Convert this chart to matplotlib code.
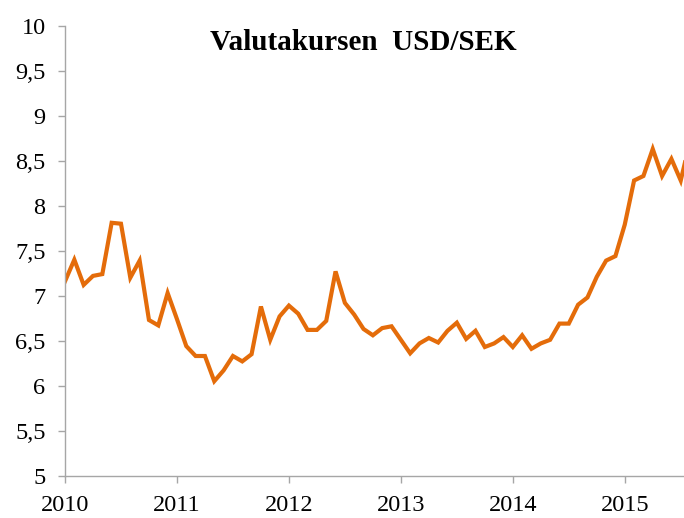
"""Valutakursen USD/SEK - månadsdata 2010-2015"""
import matplotlib
matplotlib.use("Agg")
import matplotlib.pyplot as plt
from matplotlib.ticker import FuncFormatter

# ============ data ============
# månadsvärden från jan 2010
usd_sek = [
    7.16, 7.40, 7.12, 7.22, 7.24, 7.81, 7.80, 7.20, 7.39, 6.73, 6.67, 7.03,   # 2010
    6.74, 6.44, 6.33, 6.33, 6.05, 6.17, 6.33, 6.27, 6.35, 6.88, 6.51, 6.77,   # 2011
    6.89, 6.80, 6.62, 6.62, 6.72, 7.27, 6.92, 6.79, 6.63, 6.56, 6.64, 6.66,   # 2012
    6.51, 6.36, 6.47, 6.53, 6.48, 6.61, 6.70, 6.52, 6.61, 6.43, 6.47, 6.54,   # 2013
    6.43, 6.56, 6.41, 6.47, 6.51, 6.69, 6.69, 6.90, 6.98, 7.21, 7.39, 7.44,   # 2014
    7.79, 8.28, 8.33, 8.63, 8.33, 8.52, 8.28, 8.72,                           # 2015
]
year_labels = ["2010", "2011", "2012", "2013", "2014", "2015"]
y_ticks = [5, 5.5, 6, 6.5, 7, 7.5, 8, 8.5, 9, 9.5, 10]

plt.rcParams["font.family"] = ["Liberation Serif", "DejaVu Serif"]

fig = plt.figure(figsize=(6.84, 5.18), dpi=100)
ax = fig.add_axes([65 / 684, 1 - 475.7 / 518, 1 - 65 / 684, (475.7 - 25.7) / 518])

months = list(range(len(usd_sek)))
ax.plot(months, usd_sek, color="#E46C0A", linewidth=3.0,
        solid_joinstyle="miter", clip_on=True)

ax.set_ylim(5, 10)
ax.set_xlim(0, 66.35)
ax.set_yticks(y_ticks)
ax.yaxis.set_major_formatter(FuncFormatter(lambda v, p: f"{v:g}".replace(".", ",")))
ax.set_xticks([12 * i for i in range(len(year_labels))])
ax.set_xticklabels(year_labels)

for side in ("top", "right"):
    ax.spines[side].set_visible(False)
for side in ("left", "bottom"):
    ax.spines[side].set_color("#A6A6A6")
    ax.spines[side].set_linewidth(1.0)
ax.tick_params(axis="both", colors="#A6A6A6", labelcolor="black",
               length=5, width=1.0, labelsize=17.5, pad=9)

fig.text(363 / 684, 1 - 43 / 518, "Valutakursen  USD/SEK",
         ha="center", va="center", fontsize=21, fontweight="bold")

fig.savefig("out.png", dpi=100)
